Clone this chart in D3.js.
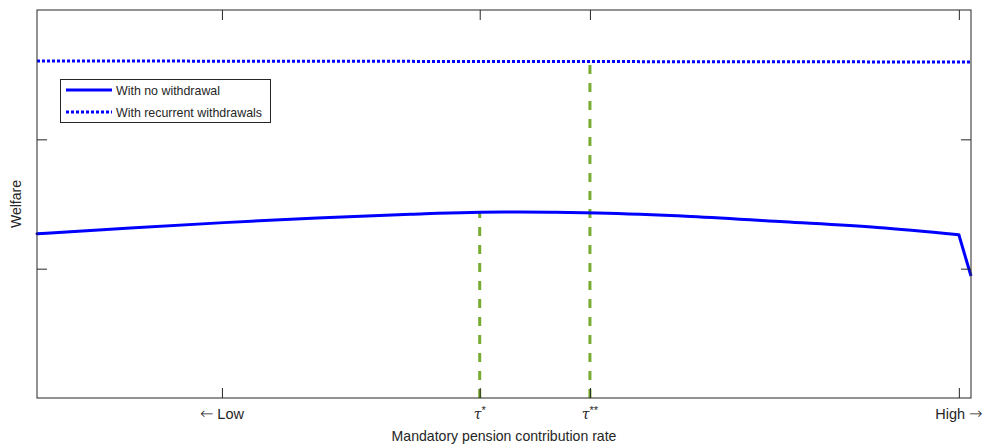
<!DOCTYPE html>
<html><head><meta charset="utf-8">
<script src="https://cdn.jsdelivr.net/npm/d3@7"></script>
<style>
body{margin:0;background:#fff;}
text{font-family:"Liberation Sans",Arial,sans-serif;fill:#262626;}
</style></head>
<body><svg id="c" width="987" height="446"></svg>
<script>
// Data (x in 0..100 along contribution-rate axis, y in welfare units)
const noWithdrawalX = [0, 10, 20, 30, 40, 50, 55, 60, 70, 80, 90, 98.7, 100];
const noWithdrawalY = [1.270, 1.315, 1.356, 1.392, 1.421, 1.438, 1.436, 1.430, 1.403, 1.362, 1.318, 1.262, 0.943];
const recurrentX = [0, 100];
const recurrentY = [2.606, 2.598];
const tickPositions = [19.8, 47.4, 59.2, 98.7];
const tickLabels = ["\u2190 Low", "tau1", "tau2", "High \u2192"];
const tauStar = 47.4, tauStarStar = 59.2;
const yTicks = [1, 2];
const seriesNames = ["With no withdrawal", "With recurrent withdrawals"];

const svg = d3.select("#c");
const L = 37, R = 971, T = 10, B = 398;
const x = d3.scaleLinear().domain([0, 100]).range([L, R]);
const y = d3.scaleLinear().domain([0, 3]).range([B, T]);
const dark = "#262626", blue = "#0000ff", green = "#77AC30";

const pts = noWithdrawalX.map((v, i) => [v, noWithdrawalY[i]]);
const interp = xv => {
  for (let i = 0; i < pts.length - 1; i++) {
    if (xv >= pts[i][0] && xv <= pts[i+1][0]) {
      const t = (xv - pts[i][0]) / (pts[i+1][0] - pts[i][0]);
      return pts[i][1] + t * (pts[i+1][1] - pts[i][1]);
    }
  }
  return pts[0][1];
};
// green dashed lines
svg.append("line").attr("x1", x(tauStar)).attr("x2", x(tauStar))
  .attr("y1", y(0)).attr("y2", y(interp(tauStar)))
  .attr("stroke", green).attr("stroke-width", 3).attr("stroke-dasharray", "9,9");
svg.append("line").attr("x1", x(tauStarStar)).attr("x2", x(tauStarStar))
  .attr("y1", y(0)).attr("y2", y(recurrentY[0]))
  .attr("stroke", green).attr("stroke-width", 3).attr("stroke-dasharray", "9,9");

// lines
const n = pts.length;
svg.append("path").datum(pts.slice(0, n - 1))
  .attr("d", d3.line().x(d => x(d[0])).y(d => y(d[1])).curve(d3.curveMonotoneX))
  .attr("fill", "none").attr("stroke", blue).attr("stroke-width", 3).attr("stroke-linecap", "round");
svg.append("path").datum(pts.slice(n - 2))
  .attr("d", d3.line().x(d => x(d[0])).y(d => y(d[1])))
  .attr("fill", "none").attr("stroke", blue).attr("stroke-width", 3);
svg.append("path").datum(recurrentX.map((v, i) => [v, recurrentY[i]]))
  .attr("d", d3.line().x(d => x(d[0])).y(d => y(d[1]))).attr("fill", "none")
  .attr("stroke", blue).attr("stroke-width", 3).attr("stroke-dasharray", "3,2");

// axes
const xb = svg.append("g").attr("transform", `translate(0,${B})`)
  .call(d3.axisBottom(x).tickValues(tickPositions).tickSize(-10).tickFormat(""));
const xt = svg.append("g").attr("transform", `translate(0,${T})`)
  .call(d3.axisTop(x).tickValues(tickPositions).tickSize(-10).tickFormat(""));
const yl = svg.append("g").attr("transform", `translate(${L},0)`)
  .call(d3.axisLeft(y).tickValues(yTicks).tickSize(-10).tickFormat(""));
const yr = svg.append("g").attr("transform", `translate(${R},0)`)
  .call(d3.axisRight(y).tickValues(yTicks).tickSize(-10).tickFormat(""));
[xb, xt, yl, yr].forEach(g => {
  g.select(".domain").remove();
  g.selectAll(".tick line").attr("stroke", dark);
});
svg.append("rect").attr("x", L).attr("y", T).attr("width", R - L).attr("height", B - T)
  .attr("fill", "none").attr("stroke", dark).attr("stroke-width", 1);

// tick labels
tickPositions.forEach((p, i) => {
  const t = svg.append("text").attr("x", x(p)).attr("y", 419)
    .attr("text-anchor", "middle").attr("font-size", 14.5);
  const lab = tickLabels[i];
  if (lab === "tau1" || lab === "tau2") {
    t.append("tspan").text("\u03C4").attr("font-family", "DejaVu Serif").attr("font-style", "italic").attr("font-size", 14);
    t.append("tspan").text(lab === "tau1" ? "*" : "**").attr("dy", -5).attr("font-size", 11);
  } else if (lab.startsWith("\u2190")) {
    t.append("tspan").text("\u2190").attr("font-family", "DejaVu Sans").attr("font-size", 16).attr("font-weight", 200);
    t.append("tspan").text(lab.slice(1));
  } else {
    t.append("tspan").text(lab.slice(0, -1));
    t.append("tspan").text("\u2192").attr("font-family", "DejaVu Sans").attr("font-size", 16).attr("font-weight", 200);
  }
});

svg.append("text").attr("x", 504).attr("y", 441).attr("text-anchor", "middle")
  .attr("font-size", 14.1).text("Mandatory pension contribution rate");
svg.append("text").attr("transform", `translate(21,${(T + B) / 2}) rotate(-90)`)
  .attr("text-anchor", "middle").attr("font-size", 14).text("Welfare");

// legend
const lg = svg.append("g");
lg.append("rect").attr("x", 60.5).attr("y", 79.5).attr("width", 210).attr("height", 43)
  .attr("fill", "#fff").attr("stroke", dark).attr("stroke-width", 1);
lg.append("line").attr("x1", 66).attr("x2", 112).attr("y1", 90).attr("y2", 90)
  .attr("stroke", blue).attr("stroke-width", 3);
lg.append("line").attr("x1", 66).attr("x2", 112).attr("y1", 112).attr("y2", 112)
  .attr("stroke", blue).attr("stroke-width", 3).attr("stroke-dasharray", "3,2");
lg.append("text").attr("x", 116).attr("y", 94.5).attr("font-size", 12.4).text(seriesNames[0]);
lg.append("text").attr("x", 116).attr("y", 116.5).attr("font-size", 12.4).text(seriesNames[1]);
</script></body></html>
